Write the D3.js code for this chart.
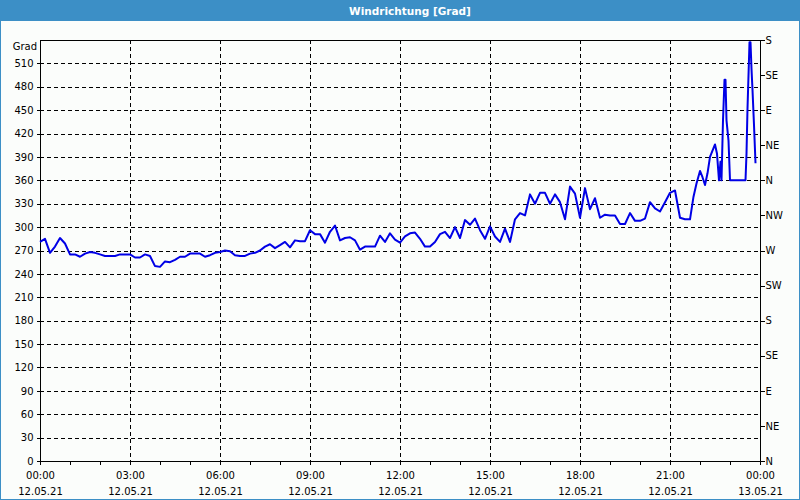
<!DOCTYPE html>
<html><head><meta charset="utf-8">
<script src="https://cdn.jsdelivr.net/npm/d3@7"></script>
<style>
body{margin:0;background:#fff}
svg{display:block}
text{font-family:"DejaVu Sans",Verdana,sans-serif;}
</style>
</head><body><svg id="c" width="800" height="500"></svg>
<script>
const titleText = "Windrichtung [Grad]";
const unitLabel = "Grad";
// sample times in minutes after 12.05.21 00:00
const minutes = [
  0,10,20,30,40,50,60,70,80,90,100,110,
  120,130,140,150,160,170,180,190,200,210,220,230,
  240,250,260,270,280,290,300,310,320,330,340,350,
  360,370,380,390,400,410,420,430,440,450,460,470,
  480,490,500,510,520,530,540,550,560,570,580,590,
  600,610,620,630,640,650,660,670,680,690,700,710,
  720,730,740,750,760,770,780,790,800,810,820,830,
  840,850,860,870,880,890,900,910,920,930,940,950,
  960,970,980,990,1000,1010,1020,1030,1040,1050,1060,1070,
  1080,1090,1100,1110,1120,1130,1140,1150,1160,1170,1180,1190,
  1200,1210,1220,1230,1240,1250,1260,1270,1280,1290,
  1300,1307,1313,1320,1325,1330,1335,1340,1350,1354,1358,1361,1363,1366,1369,1371,1373,1377,1380,
  1411,1413,1415,1419,1421,1423,1425,1428,1431
];
const direction = [
  281,285,267,275,286,279,265,265,262,266,268,267,
  265,263,263,263,265,265,265,261,261,265,263,250,
  249,256,255,258,262,262,266,266,266,262,264,267,
  268,270,269,264,263,263,266,267,270,275,278,273,
  277,281,274,283,282,282,296,291,291,280,294,302,
  283,286,287,283,271,275,275,275,289,281,292,284,
  280,288,292,293,285,275,275,281,291,294,286,300,
  286,309,303,311,296,285,301,288,281,298,281,310,
  318,315,342,330,344,344,330,342,332,310,352,343,
  312,350,323,337,312,316,315,315,304,304,318,308,
  308,311,332,324,320,332,344,347,312,310,
  310,339,356,372,364,354,369,390,406,394,360,384,360,437,489,489,437,411,360,
  360,394,452,537,537,503,476,431,382
];
const gradTicks = [0,30,60,90,120,150,180,210,240,270,300,330,360,390,420,450,480,510];
const compassDegrees = [0,45,90,135,180,225,270,315,360,405,450,495,540];
const compassLabels = ["N","NE","E","SE","S","SW","W","NW","N","NE","E","SE","S"];
const labelHours = [0,3,6,9,12,15,18,21,24];
const timeLabels = ["00:00","03:00","06:00","09:00","12:00","15:00","18:00","21:00","00:00"];
const dateLabels = ["12.05.21","12.05.21","12.05.21","12.05.21","12.05.21","12.05.21","12.05.21","12.05.21","13.05.21"];
const minorHours = d3.range(0,25);

const W=800,H=500;
const L=40,R=760,T=40,B=461;
const blue="#3c8fc6";
const svg=d3.select("#c");
svg.append("rect").attr("x",0).attr("y",0).attr("width",W).attr("height",H).attr("fill","#fbfdfb");
svg.append("rect").attr("x",0.5).attr("y",0.5).attr("width",W-1).attr("height",H-1).attr("fill","none").attr("stroke",blue);
svg.append("rect").attr("x",0).attr("y",0).attr("width",W).attr("height",21).attr("fill",blue);
svg.append("text").attr("x",410).attr("y",15).attr("text-anchor","middle").attr("fill","#fff")
  .attr("font-weight","bold").attr("font-size","10.5px").text(titleText);

const x=d3.scaleLinear().domain([0,1440]).range([L,R]);
const y=d3.scaleLinear().domain([0,540]).range([B,T]);
const px=v=>Math.round(v)+0.5;

const g=svg.append("g");
// grid
g.selectAll("line.hg").data(gradTicks.filter(d=>d>0)).join("line")
  .attr("x1",L).attr("x2",R).attr("y1",d=>px(y(d))).attr("y2",d=>px(y(d)))
  .attr("stroke","#000").attr("stroke-dasharray","4,3").attr("shape-rendering","crispEdges");
g.selectAll("line.vg").data(labelHours.filter(h=>h>0&&h<24)).join("line")
  .attr("x1",d=>px(x(d*60))).attr("x2",d=>px(x(d*60))).attr("y1",T).attr("y2",B)
  .attr("stroke","#000").attr("stroke-dasharray","4,3").attr("shape-rendering","crispEdges");

// left axis
const la=svg.append("g").attr("transform",`translate(${L+0.5},0)`)
  .call(d3.axisLeft(y).tickValues(gradTicks).tickSize(4).tickPadding(3));
la.select(".domain").remove();
la.selectAll("text").attr("font-size","10px").attr("font-family","'DejaVu Sans',sans-serif").attr("fill","#000");
la.selectAll("line").attr("shape-rendering","crispEdges");
svg.append("text").attr("x",37).attr("y",50).attr("text-anchor","end").attr("font-size","10px").text(unitLabel);

// right axis
const ra=svg.append("g").attr("transform",`translate(${R+0.5},0)`)
  .call(d3.axisRight(y).tickValues(compassDegrees).tickFormat((d,i)=>compassLabels[i]).tickSize(4).tickPadding(1));
ra.select(".domain").remove();
ra.selectAll("text").attr("font-size","10px").attr("font-family","'DejaVu Sans',sans-serif").attr("fill","#000");
ra.selectAll("line").attr("shape-rendering","crispEdges");

// bottom axis
const ba=svg.append("g").attr("transform",`translate(0,${B+0.5})`)
  .call(d3.axisBottom(x).tickValues(minorHours.map(h=>h*60)).tickSize(3).tickFormat(""));
ba.select(".domain").remove();
ba.selectAll("line").attr("shape-rendering","crispEdges");
const bl=svg.append("g").selectAll("g").data(labelHours).join("g")
  .attr("transform",(d)=>`translate(${x(d*60)+0.5},0)`);
bl.append("text").attr("y",479).attr("text-anchor","middle").attr("font-size","10px").text((d,i)=>timeLabels[i]);
bl.append("text").attr("y",495).attr("text-anchor","middle").attr("font-size","10px").text((d,i)=>dateLabels[i]);

// frame
svg.append("rect").attr("x",L+0.5).attr("y",T+0.5).attr("width",R-L).attr("height",B-T)
  .attr("fill","none").attr("stroke","#000").attr("shape-rendering","crispEdges");

// series
const pts=minutes.map((m,i)=>[m,direction[i]]);
svg.append("path").datum(pts)
  .attr("d",d3.line().x(d=>x(d[0])).y(d=>y(d[1])))
  .attr("fill","none").attr("stroke","#0000e6").attr("stroke-width",2).attr("stroke-linejoin","round");
</script>
</body></html>
